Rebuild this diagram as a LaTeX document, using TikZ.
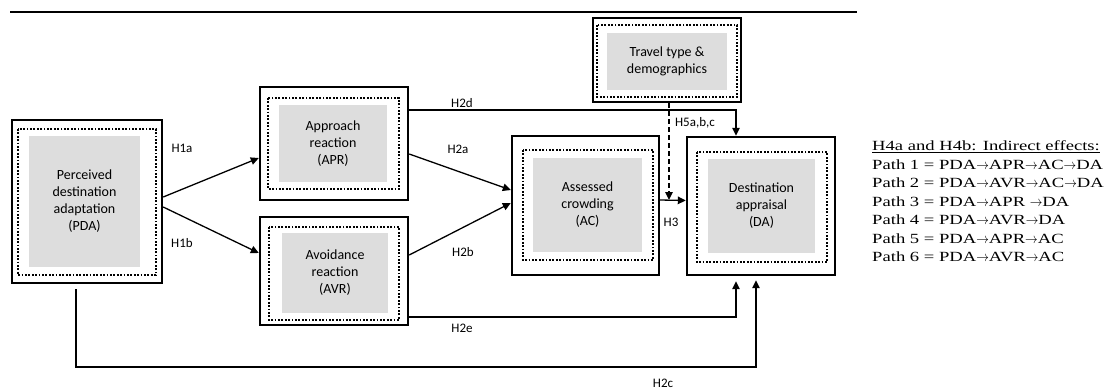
\documentclass[tikz,border=0pt]{standalone}
\usepackage{fontspec}
\setmainfont{Carlito}
\newfontfamily\legfont[FakeStretch=1.33]{Liberation Serif}
\usetikzlibrary{arrows.meta}
\definecolor{boxgray}{RGB}{221,221,221}
\newcommand\legarrow{\scalebox{0.88}[1]{$\rightarrow$}}
\tikzset{
  outerbox/.style={draw, line width=2.4bp, inner sep=0pt},
  dotbox/.style={draw, line width=1.8bp, dash pattern=on 1.8bp off 1.6bp},
  grayfill/.style={fill=boxgray},
  boxtext/.style={font=\fontsize{14bp}{17bp}\selectfont, align=center, inner sep=0pt},
  lab/.style={font=\fontsize{13bp}{15bp}\selectfont, inner sep=0pt},
  conn/.style={line width=1.3bp, -{Triangle[length=8bp,width=7.5bp]}},
  dconn/.style={conn, dash pattern=on 5bp off 3bp},
  legline/.style={font=\legfont\fontsize{14bp}{18bp}\selectfont, anchor=base west, inner sep=0pt}
}
\begin{document}
\begin{tikzpicture}[x=1bp,y=-1bp]
\useasboundingbox (0,0) rectangle (1106,391);
% top rule
\coordinate (ruleL) at (10,12);
\coordinate (ruleR) at (857,12);
\draw[line width=1.6bp] (ruleL) -- (ruleR);

% PDA
\fill[grayfill] (29,136) rectangle (140,267);
\draw[dotbox] (18,129) rectangle (156,275);
\node[outerbox, minimum width=150bp, minimum height=163bp] (pda) at (87,201.5) {};
\node[boxtext] (pdat) at (84.5,201.5) {Perceived\\destination\\adaptation\\(PDA)};

% APR
\fill[grayfill] (279,105) rectangle (387,182);
\draw[dotbox] (268,98) rectangle (399,189);
\node[outerbox, minimum width=148bp, minimum height=113bp] (apr) at (334,143.5) {};
\node[boxtext] (aprt) at (333,143.5) {Approach\\reaction\\(APR)};

% AVR
\fill[grayfill] (282,233) rectangle (388,313);
\draw[dotbox] (269,227) rectangle (399,320);
\node[outerbox, minimum width=148bp, minimum height=108bp] (avr) at (334,271) {};
\node[boxtext] (avrt) at (335,273) {Avoidance\\reaction\\(AVR)};

% Travel type
\fill[grayfill] (607,33) rectangle (727,90);
\draw[dotbox] (597,25) rectangle (737,97);
\node[outerbox, minimum width=148bp, minimum height=84bp] (tt) at (667,60) {};
\node[boxtext] (ttt) at (667,61.5) {Travel type \&\\demographics};

% AC
\fill[grayfill] (533,158) rectangle (642,252);
\draw[dotbox] (523,150) rectangle (653,260);
\node[outerbox, minimum width=147bp, minimum height=139bp] (ac) at (585.5,205.5) {};
\node[boxtext] (act) at (587.5,205) {Assessed\\crowding\\(AC)};

% DA
\fill[grayfill] (708,159) rectangle (815,253);
\draw[dotbox] (697,152) rectangle (827,262);
\node[outerbox, minimum width=148bp, minimum height=138bp] (da) at (761,206) {};
\node[boxtext] (dat) at (761.5,206) {Destination\\appraisal\\(DA)};

% connectors
\draw[conn] ([yshift=4.5bp]pda.east) -- ([yshift=-14.5bp]apr.west);
\draw[conn] ([yshift=-5.5bp]pda.east) -- ([yshift=18bp]avr.west);
\draw[conn] ([yshift=-10.5bp]apr.east) -- ([yshift=15.5bp]ac.west);
\draw[conn] ([yshift=16bp]avr.east) -- ([yshift=2.5bp]ac.west);
\draw[conn] ([yshift=33.5bp]apr.east) -| ([xshift=-25bp]da.north);
\coordinate (h3s) at ([yshift=5.5bp]ac.east);
\draw[conn] (h3s) -- ([yshift=5.5bp]da.west);
\draw[dconn] ([xshift=2bp]tt.south) -- ([xshift=2bp]tt.south |- h3s);
\draw[conn] ([yshift=-46bp]avr.east) -| ([xshift=-25bp,yshift=-5bp]da.south);
\coordinate (h2cc) at (400,367);
\draw[conn] ([xshift=-11bp,yshift=-5bp]pda.south) |- (h2cc) -| ([xshift=-5bp,yshift=-4bp]da.south);

% labels
\node[lab] (l1a) at (182,148) {H1a};
\node[lab] (l1b) at (182,243) {H1b};
\node[lab] (l2a) at (458,149) {H2a};
\node[lab] (l2b) at (463,252) {H2b};
\node[lab] (l2d) at (462,103) {H2d};
\node[lab] (l2e) at (462,328) {H2e};
\node[lab] (l2c) at (663,383) {H2c};
\node[lab] (l3) at (671,222) {H3};
\node[lab] (l5) at (695,123) {H5a,b,c};

% legend
\node[legline] (leg0) at (872,150.5) {\underline{H4a and H4b: Indirect effects:}};
\node[legline] (leg1) at (872,169) {Path 1 = PDA\legarrow APR\legarrow AC\legarrow DA};
\node[legline] (leg2) at (872,187.5) {Path 2 = PDA\legarrow AVR\legarrow AC\legarrow DA};
\node[legline] (leg3) at (872,206) {Path 3 = PDA\legarrow APR \legarrow DA};
\node[legline] (leg4) at (872,224.5) {Path 4 = PDA\legarrow AVR\legarrow DA};
\node[legline] (leg5) at (872,243) {Path 5 = PDA\legarrow APR\legarrow AC};
\node[legline] (leg6) at (872,261.5) {Path 6 = PDA\legarrow AVR\legarrow AC};
\end{tikzpicture}
\end{document}
